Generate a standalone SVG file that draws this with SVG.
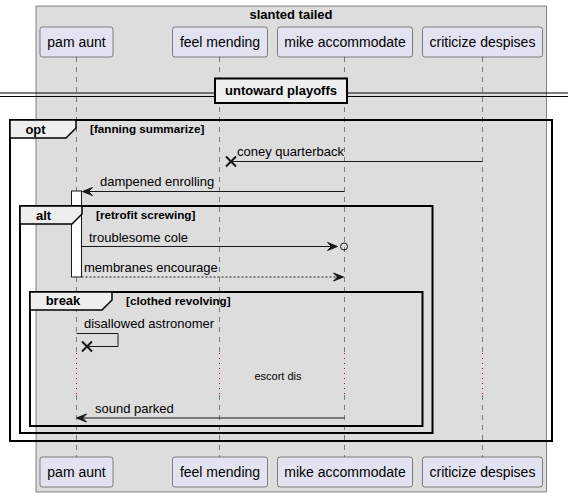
<svg xmlns="http://www.w3.org/2000/svg" width="568" height="497" viewBox="0 0 568 497">
<defs>
<style>
text{font-family:"Liberation Sans",Arial,sans-serif;fill:#000}
.pbox{fill:#E2E2F0;stroke:#181818;stroke-width:0.5}
.pname{font-size:14px;text-anchor:middle}
.msg{font-size:13px}
.bold{font-weight:bold}
.cond{font-size:11.7px;font-weight:bold}
.life{stroke:#181818;stroke-width:0.5;stroke-dasharray:5,5;fill:none}
.delay{stroke:#BB0044;stroke-width:1;stroke-dasharray:1,4;fill:none}
.frame{fill:none;stroke:#000;stroke-width:2}
.tab{fill:#EEEEEE;stroke:#000;stroke-width:1.5}
.line{stroke:#181818;stroke-width:1;fill:none}
.dash{stroke:#181818;stroke-width:1;fill:none;stroke-dasharray:2,2}
.head{fill:#181818;stroke:#181818;stroke-width:1}
</style>
</defs>
<rect x="36" y="6" width="510.5" height="486" fill="#DDDDDD" stroke="#181818" stroke-width="0.5"/>
<text x="291" y="19" class="msg bold" text-anchor="middle">slanted tailed</text>
<g id="lifelines">
<path class="life" d="M76.5,57V353M76.5,395V457"/>
<path class="delay" d="M76.5,353V395"/>
<path class="life" d="M219.5,57V353M219.5,395V457"/>
<path class="delay" d="M219.5,353V395"/>
<path class="life" d="M344.5,57V353M344.5,395V457"/>
<path class="delay" d="M344.5,353V395"/>
<path class="life" d="M482.5,57V353M482.5,395V457"/>
<path class="delay" d="M482.5,353V395"/>
</g>
<g id="pam_aunt">
<rect class="pbox" x="40" y="27" width="73" height="30" rx="2.5"/>
<text class="pname" x="76.5" y="47">pam aunt</text>
<rect class="pbox" x="40" y="457" width="73" height="30" rx="2.5"/>
<text class="pname" x="76.5" y="477">pam aunt</text>
</g>
<g id="feel_mending">
<rect class="pbox" x="172.5" y="27" width="95" height="30" rx="2.5"/>
<text class="pname" x="220" y="47">feel mending</text>
<rect class="pbox" x="172.5" y="457" width="95" height="30" rx="2.5"/>
<text class="pname" x="220" y="477">feel mending</text>
</g>
<g id="mike_accommodate">
<rect class="pbox" x="277.5" y="27" width="135" height="30" rx="2.5"/>
<text class="pname" x="345" y="47">mike accommodate</text>
<rect class="pbox" x="277.5" y="457" width="135" height="30" rx="2.5"/>
<text class="pname" x="345" y="477">mike accommodate</text>
</g>
<g id="criticize_despises">
<rect class="pbox" x="422.5" y="27" width="120" height="30" rx="2.5"/>
<text class="pname" x="482.5" y="47">criticize despises</text>
<rect class="pbox" x="422.5" y="457" width="120" height="30" rx="2.5"/>
<text class="pname" x="482.5" y="477">criticize despises</text>
</g>
<g id="divider">
<path d="M0,93H568M0,96.5H568" stroke="#000" stroke-width="1" fill="none"/>
<rect x="215" y="78.5" width="132" height="24.5" fill="#EEEEEE" stroke="#000" stroke-width="2"/>
<text x="281" y="95" class="msg bold" text-anchor="middle">untoward playoffs</text>
</g>
<g id="activation">
<rect x="71.5" y="191" width="10" height="86" fill="#FFFFFF" stroke="#181818" stroke-width="1"/>
</g>
<g id="frames">
<rect class="frame" x="10" y="120" width="542" height="321"/>
<path class="tab" d="M10,120H76V128L66,138H10Z"/>
<text x="35.5" y="134" class="msg bold" text-anchor="middle">opt</text>
<text x="90" y="133" class="cond">[fanning summarize]</text>
<rect class="frame" x="20" y="206" width="412.5" height="227"/>
<path class="tab" d="M20,206H82V214L72,224H20Z"/>
<text x="43.5" y="220" class="msg bold" text-anchor="middle">alt</text>
<text x="96" y="219" class="cond">[retrofit screwing]</text>
<rect class="frame" x="30" y="292" width="392.5" height="134"/>
<path class="tab" d="M30,292H112V300L102,310H30Z"/>
<text x="63" y="305" class="msg bold" text-anchor="middle">break</text>
<text x="126" y="305" class="cond">[clothed revolving]</text>
</g>
<g id="connectors">
<path class="line" d="M482.5,161.5H231"/>
<path d="M226,156.5L236,166.5M226,166.5L236,156.5" stroke="#181818" stroke-width="2"/>
<text x="237" y="156" class="msg">coney quarterback</text>
<path class="line" d="M344.5,191.5H83"/>
<path class="head" d="M82.5,191.5L92.5,187.5L88.5,191.5L92.5,195.5Z"/>
<text x="100" y="186" class="msg">dampened enrolling</text>
<path class="line" d="M81.5,246.5H336"/>
<path class="head" d="M337.5,246.5L327.5,242.5L331.5,246.5L327.5,250.5Z"/>
<circle cx="344" cy="246.5" r="3.5" fill="none" stroke="#181818" stroke-width="1"/>
<text x="89" y="242" class="msg">troublesome cole</text>
<path class="dash" d="M81.5,277H342"/>
<path class="head" d="M343.5,277L333.5,273L337.5,277L333.5,281Z"/>
<text x="84" y="272" class="msg">membranes encourage</text>
<path class="line" d="M76.5,333.5H118V346.5H88"/>
<path d="M82,341.5L92,351.5M82,351.5L92,341.5" stroke="#181818" stroke-width="2"/>
<text x="84" y="328" class="msg">disallowed astronomer</text>
<text x="278" y="380" font-size="11" text-anchor="middle">escort dis</text>
<path class="line" d="M344.5,418H77"/>
<path class="head" d="M76.5,418L86.5,414L82.5,418L86.5,422Z"/>
<text x="95" y="413" class="msg">sound parked</text>
</g>
</svg>
